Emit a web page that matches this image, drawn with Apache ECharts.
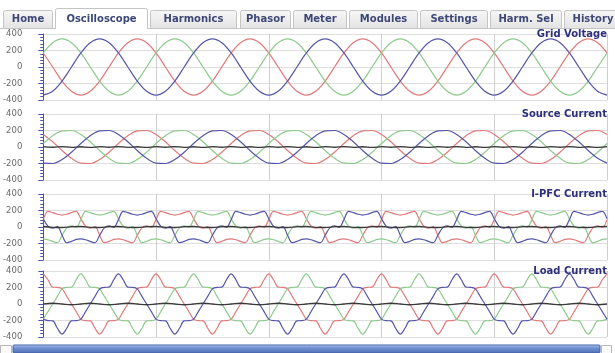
<!DOCTYPE html>
<html>
<head>
<meta charset="utf-8">
<script src="https://cdn.jsdelivr.net/npm/echarts@6/dist/echarts.min.js"></script>
<style>
  html, body { margin: 0; padding: 0; background: #fff; }
  #scope { width: 615px; height: 353px; }
</style>
</head>
<body>
<div id="scope"></div>
<script>
// tab strip of the GUI
const TAB_LABELS = ['Home', 'Oscilloscope', 'Harmonics', 'Phasor', 'Meter', 'Modules', 'Settings', 'Harm. Sel', 'History'];
const ACTIVE_TAB = 'Oscilloscope';

const PANEL_TITLES = ['Grid Voltage', 'Source Current', 'I-PFC Current', 'Load Current'];

// 5 cycles of 50 Hz = 100 ms across the screen
const T_MAX = 100;

// sampled every 30 deg (61 pts)
const gridVoltageRed = [
  170, 0, -170, -294, -340, -294, -170, 0, 170, 294, 340, 294,
  170, 0, -170, -294, -340, -294, -170, 0, 170, 294, 340, 294,
  170, 0, -170, -294, -340, -294, -170, 0, 170, 294, 340, 294,
  170, 0, -170, -294, -340, -294, -170, 0, 170, 294, 340, 294,
  170, 0, -170, -294, -340, -294, -170, 0, 170, 294, 340, 294,
  170
];
const gridVoltageGreen = [
  170, 294, 340, 294, 170, 0, -170, -294, -340, -294, -170, 0,
  170, 294, 340, 294, 170, 0, -170, -294, -340, -294, -170, 0,
  170, 294, 340, 294, 170, 0, -170, -294, -340, -294, -170, 0,
  170, 294, 340, 294, 170, 0, -170, -294, -340, -294, -170, 0,
  170, 294, 340, 294, 170, 0, -170, -294, -340, -294, -170, 0,
  170
];
const gridVoltageBlue = [
  -340, -294, -170, 0, 170, 294, 340, 294, 170, 0, -170, -294,
  -340, -294, -170, 0, 170, 294, 340, 294, 170, 0, -170, -294,
  -340, -294, -170, 0, 170, 294, 340, 294, 170, 0, -170, -294,
  -340, -294, -170, 0, 170, 294, 340, 294, 170, 0, -170, -294,
  -340, -294, -170, 0, 170, 294, 340, 294, 170, 0, -170, -294,
  -340
];

const sourceCurrentRed = [
  152, 63, -43, -137, -195, -200, -152, -63, 43, 137, 195, 200,
  152, 63, -43, -137, -195, -200, -152, -63, 43, 137, 195, 200,
  152, 63, -43, -137, -195, -200, -152, -63, 43, 137, 195, 200,
  152, 63, -43, -137, -195, -200, -152, -63, 43, 137, 195, 200,
  152, 63, -43, -137, -195, -200, -152, -63, 43, 137, 195, 200,
  152
];
const sourceCurrentGreen = [
  43, 137, 195, 200, 152, 63, -43, -137, -195, -200, -152, -63,
  43, 137, 195, 200, 152, 63, -43, -137, -195, -200, -152, -63,
  43, 137, 195, 200, 152, 63, -43, -137, -195, -200, -152, -63,
  43, 137, 195, 200, 152, 63, -43, -137, -195, -200, -152, -63,
  43, 137, 195, 200, 152, 63, -43, -137, -195, -200, -152, -63,
  43
];
const sourceCurrentBlue = [
  -195, -200, -152, -63, 43, 137, 195, 200, 152, 63, -43, -137,
  -195, -200, -152, -63, 43, 137, 195, 200, 152, 63, -43, -137,
  -195, -200, -152, -63, 43, 137, 195, 200, 152, 63, -43, -137,
  -195, -200, -152, -63, 43, 137, 195, 200, 152, 63, -43, -137,
  -195, -200, -152, -63, 43, 137, 195, 200, 152, 63, -43, -137,
  -195
];
const sourceCurrentNeutral = [
  4, -3, 5, -4, 3, -5, 4, -3, 5, -4, 3, -5,
  4, -3, 5, -4, 3, -5, 4, -3, 5, -4, 3, -5,
  4, -3, 5, -4, 3, -5, 4, -3, 5, -4, 3, -5,
  4, -3, 5, -4, 3, -5, 4, -3, 5, -4, 3, -5,
  4, -3, 5, -4, 3, -5, 4, -3, 5, -4, 3, -5,
  4
];

// sampled every 15 deg (121 pts)
const pfcCurrentRed = [
  90, 190, 175, 155, 145, 155, 175, 190, 100, 10, -15, 5, -100, -190, -175, -150, -145, -155, -175, -190, -100, -10, 15, -5,
  90, 190, 175, 155, 145, 155, 175, 190, 100, 10, -15, 5, -100, -190, -175, -150, -145, -155, -175, -190, -100, -10, 15, -5,
  90, 190, 175, 155, 145, 155, 175, 190, 100, 10, -15, 5, -100, -190, -175, -150, -145, -155, -175, -190, -100, -10, 15, -5,
  90, 190, 175, 155, 145, 155, 175, 190, 100, 10, -15, 5, -100, -190, -175, -150, -145, -155, -175, -190, -100, -10, 15, -5,
  90, 190, 175, 155, 145, 155, 175, 190, 100, 10, -15, 5, -100, -190, -175, -150, -145, -155, -175, -190, -100, -10, 15, -5,
  90
];
const pfcCurrentGreen = [
  -145, -155, -175, -190, -100, -10, 15, -5, 90, 190, 175, 155, 145, 155, 175, 190, 100, 10, -15, 5, -100, -190, -175, -150,
  -145, -155, -175, -190, -100, -10, 15, -5, 90, 190, 175, 155, 145, 155, 175, 190, 100, 10, -15, 5, -100, -190, -175, -150,
  -145, -155, -175, -190, -100, -10, 15, -5, 90, 190, 175, 155, 145, 155, 175, 190, 100, 10, -15, 5, -100, -190, -175, -150,
  -145, -155, -175, -190, -100, -10, 15, -5, 90, 190, 175, 155, 145, 155, 175, 190, 100, 10, -15, 5, -100, -190, -175, -150,
  -145, -155, -175, -190, -100, -10, 15, -5, 90, 190, 175, 155, 145, 155, 175, 190, 100, 10, -15, 5, -100, -190, -175, -150,
  -145
];
const pfcCurrentBlue = [
  100, 10, -15, 5, -100, -190, -175, -150, -145, -155, -175, -190, -100, -10, 15, -5, 90, 190, 175, 155, 145, 155, 175, 190,
  100, 10, -15, 5, -100, -190, -175, -150, -145, -155, -175, -190, -100, -10, 15, -5, 90, 190, 175, 155, 145, 155, 175, 190,
  100, 10, -15, 5, -100, -190, -175, -150, -145, -155, -175, -190, -100, -10, 15, -5, 90, 190, 175, 155, 145, 155, 175, 190,
  100, 10, -15, 5, -100, -190, -175, -150, -145, -155, -175, -190, -100, -10, 15, -5, 90, 190, 175, 155, 145, 155, 175, 190,
  100, 10, -15, 5, -100, -190, -175, -150, -145, -155, -175, -190, -100, -10, 15, -5, 90, 190, 175, 155, 145, 155, 175, 190,
  100
];
// 30 deg
const pfcCurrentNeutral = [
  6, -4, -6, 4, 6, -4, -6, 4, 6, -4, -6, 4,
  6, -4, -6, 4, 6, -4, -6, 4, 6, -4, -6, 4,
  6, -4, -6, 4, 6, -4, -6, 4, 6, -4, -6, 4,
  6, -4, -6, 4, 6, -4, -6, 4, 6, -4, -6, 4,
  6, -4, -6, 4, 6, -4, -6, 4, 6, -4, -6, 4,
  6
];

// 15 deg
const loadCurrentRed = [
  365, 294, 204, 202, 183, 92, 0, -92, -183, -202, -204, -294, -365, -294, -204, -202, -183, -92, 0, 92, 183, 202, 204, 294,
  365, 294, 204, 202, 183, 92, 0, -92, -183, -202, -204, -294, -365, -294, -204, -202, -183, -92, 0, 92, 183, 202, 204, 294,
  365, 294, 204, 202, 183, 92, 0, -92, -183, -202, -204, -294, -365, -294, -204, -202, -183, -92, 0, 92, 183, 202, 204, 294,
  365, 294, 204, 202, 183, 92, 0, -92, -183, -202, -204, -294, -365, -294, -204, -202, -183, -92, 0, 92, 183, 202, 204, 294,
  365, 294, 204, 202, 183, 92, 0, -92, -183, -202, -204, -294, -365, -294, -204, -202, -183, -92, 0, 92, 183, 202, 204, 294,
  365
];
const loadCurrentGreen = [
  -183, -92, 0, 92, 183, 202, 204, 294, 365, 294, 204, 202, 183, 92, 0, -92, -183, -202, -204, -294, -365, -294, -204, -202,
  -183, -92, 0, 92, 183, 202, 204, 294, 365, 294, 204, 202, 183, 92, 0, -92, -183, -202, -204, -294, -365, -294, -204, -202,
  -183, -92, 0, 92, 183, 202, 204, 294, 365, 294, 204, 202, 183, 92, 0, -92, -183, -202, -204, -294, -365, -294, -204, -202,
  -183, -92, 0, 92, 183, 202, 204, 294, 365, 294, 204, 202, 183, 92, 0, -92, -183, -202, -204, -294, -365, -294, -204, -202,
  -183, -92, 0, 92, 183, 202, 204, 294, 365, 294, 204, 202, 183, 92, 0, -92, -183, -202, -204, -294, -365, -294, -204, -202,
  -183
];
const loadCurrentBlue = [
  -183, -202, -204, -294, -365, -294, -204, -202, -183, -92, 0, 92, 183, 202, 204, 294, 365, 294, 204, 202, 183, 92, 0, -92,
  -183, -202, -204, -294, -365, -294, -204, -202, -183, -92, 0, 92, 183, 202, 204, 294, 365, 294, 204, 202, 183, 92, 0, -92,
  -183, -202, -204, -294, -365, -294, -204, -202, -183, -92, 0, 92, 183, 202, 204, 294, 365, 294, 204, 202, 183, 92, 0, -92,
  -183, -202, -204, -294, -365, -294, -204, -202, -183, -92, 0, 92, 183, 202, 204, 294, 365, 294, 204, 202, 183, 92, 0, -92,
  -183, -202, -204, -294, -365, -294, -204, -202, -183, -92, 0, 92, 183, 202, 204, 294, 365, 294, 204, 202, 183, 92, 0, -92,
  -183
];
// 30 deg
const loadCurrentNeutral = [
  0, 9, 0, -9, 0, 9, 0, -9, 0, 9, 0, -9,
  0, 9, 0, -9, 0, 9, 0, -9, 0, 9, 0, -9,
  0, 9, 0, -9, 0, 9, 0, -9, 0, 9, 0, -9,
  0, 9, 0, -9, 0, 9, 0, -9, 0, 9, 0, -9,
  0, 9, 0, -9, 0, 9, 0, -9, 0, 9, 0, -9,
  0
];

// ---- layout / style ----
const FONT = '"DejaVu Sans", sans-serif';
const PHASE_COLORS = { r: '#e07a7a', g: '#8ccb8c', b: '#5656a8', n: '#3a3a3a' };
const AXIS_BLUE = '#4a56aa';
const GRID_LEFT = 43;
const GRID_RIGHT = 8;
const GRID_TOPS = [34, 114, 194, 271];
const GRID_HEIGHT = 66;
const TAB_EDGES = [[3, 53], [55, 148], [150, 237], [240, 291], [293, 347], [349, 418], [420, 488], [490, 562], [564, 622]];

const panels = [
  [['r', gridVoltageRed], ['g', gridVoltageGreen], ['b', gridVoltageBlue]],
  [['r', sourceCurrentRed], ['g', sourceCurrentGreen], ['b', sourceCurrentBlue], ['n', sourceCurrentNeutral]],
  [['r', pfcCurrentRed], ['g', pfcCurrentGreen], ['b', pfcCurrentBlue], ['n', pfcCurrentNeutral]],
  [['r', loadCurrentRed], ['g', loadCurrentGreen], ['b', loadCurrentBlue], ['n', loadCurrentNeutral]],
];

const chart = echarts.init(document.getElementById('scope'), null, { renderer: 'canvas' });

const grids = GRID_TOPS.map(top => ({ left: GRID_LEFT, right: GRID_RIGHT, top, height: GRID_HEIGHT }));

const xAxes = GRID_TOPS.map((_, i) => ({
  gridIndex: i,
  type: 'value',
  min: 0,
  max: T_MAX,
  interval: 20,
  axisLine: { show: false },
  axisTick: { show: false },
  axisLabel: { show: false },
  splitLine: { show: true, lineStyle: { color: '#cfcfcf', width: 1 } },
}));

const yAxes = GRID_TOPS.map((_, i) => ({
  gridIndex: i,
  type: 'value',
  min: -400,
  max: 400,
  interval: 200,
  offset: 4,
  axisLine: { show: true, lineStyle: { color: AXIS_BLUE, width: 1 } },
  axisTick: { show: true, length: 5, lineStyle: { color: AXIS_BLUE } },
  minorTick: { show: true, splitNumber: 5, length: 3, lineStyle: { color: AXIS_BLUE } },
  axisLabel: { color: '#6a6a6a', fontSize: 8.5, fontFamily: FONT, margin: 17 },
  splitLine: { show: true, lineStyle: { color: '#dedede', width: 1 } },
}));

const titles = PANEL_TITLES.map((text, i) => ({
  text,
  right: GRID_RIGHT,
  top: GRID_TOPS[i] - 5,
  padding: 0,
  textStyle: { fontSize: 10, fontWeight: 'bold', color: '#2e307c', fontFamily: FONT },
}));

const series = [];
panels.forEach((lines, i) => {
  lines.forEach(([phase, values]) => {
    const step = T_MAX / (values.length - 1);
    series.push({
      type: 'line',
      xAxisIndex: i,
      yAxisIndex: i,
      data: values.map((v, k) => [k * step, v]),
      showSymbol: false,
      smooth: 0.35,
      lineStyle: { color: PHASE_COLORS[phase], width: phase === 'n' ? 1.3 : 1.2 },
      z: phase === 'n' ? 4 : 3,
    });
  });
});

// tabs + scrollbar of the host window
const tabFill = new echarts.graphic.LinearGradient(0, 0, 0, 1, [
  { offset: 0, color: '#f7f7f7' },
  { offset: 1, color: '#e3e3e3' },
]);
const graphics = [
  { type: 'line', shape: { x1: 0, y1: 28.5, x2: 615, y2: 28.5 }, style: { stroke: '#c6c6c6', lineWidth: 1 } },
];
TAB_LABELS.forEach((label, i) => {
  const [x0, x1] = TAB_EDGES[i];
  const active = label === ACTIVE_TAB;
  graphics.push({
    type: 'rect',
    shape: { x: x0 + 0.5, y: active ? 8.5 : 10.5, width: x1 - x0 - 1, height: active ? 20 : 18, r: [2, 2, 0, 0] },
    style: { fill: active ? '#ffffff' : tabFill, stroke: '#c4c4c4', lineWidth: 1 },
  });
  if (active) {
    graphics.push({
      type: 'rect',
      shape: { x: x0 + 1, y: 28, width: x1 - x0 - 2, height: 2 },
      style: { fill: '#ffffff' },
    });
  }
  graphics.push({
    type: 'text',
    x: (x0 + x1) / 2,
    y: 19.5,
    style: { text: label, align: 'center', verticalAlign: 'middle', font: 'bold 10px ' + FONT, fill: '#3e4878' },
  });
});
graphics.push(
  { type: 'rect', shape: { x: 0.5, y: 345.5, width: 11, height: 8 }, style: { fill: '#fafafa', stroke: '#b8b8b8' } },
  {
    type: 'rect',
    shape: { x: 13, y: 345, width: 587, height: 8, r: 1 },
    style: {
      fill: new echarts.graphic.LinearGradient(0, 0, 0, 1, [
        { offset: 0, color: '#c2d4f2' },
        { offset: 0.35, color: '#7593d2' },
        { offset: 1, color: '#4c6cb4' },
      ]),
      stroke: '#4463a8',
      lineWidth: 1,
    },
  },
  { type: 'rect', shape: { x: 601.5, y: 345.5, width: 10, height: 8 }, style: { fill: '#fafafa', stroke: '#b8b8b8' } }
);

chart.setOption({
  animation: false,
  backgroundColor: '#ffffff',
  title: titles,
  grid: grids,
  xAxis: xAxes,
  yAxis: yAxes,
  series,
  graphic: graphics,
});
</script>
</body>
</html>
